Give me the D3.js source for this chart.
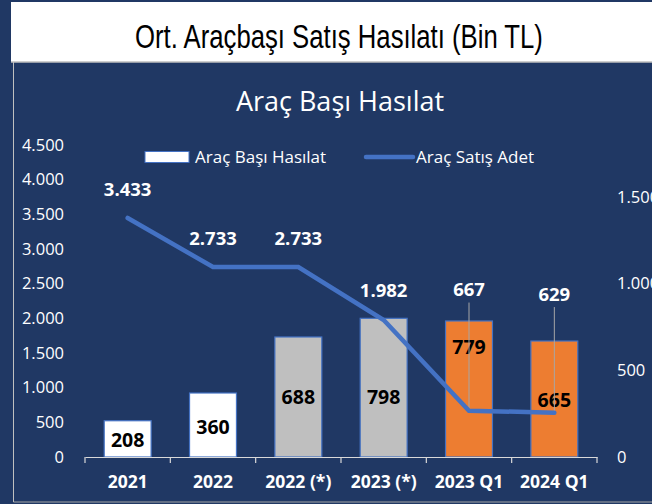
<!DOCTYPE html>
<html><head><meta charset="utf-8">
<script src="https://cdn.jsdelivr.net/npm/d3@7"></script>
<style>html,body{margin:0;padding:0;background:#203864;} svg{display:block}</style>
</head><body><svg id="c" width="652" height="504"></svg>
<script>
// ---- data ----
const categories = ["2021", "2022", "2022 (*)", "2023 (*)", "2023 Q1", "2024 Q1"];
const barValues = [523, 923, 1731, 2000, 1962, 1673];          // Araç Başı Hasılat (left axis)
const lineValues = [1379, 1096, 1096, 790, 267, 256];          // Araç Satış Adet (right axis)
const barLabels = ["208", "360", "688", "798", "779", "665"];
const lineLabels = ["3.433", "2.733", "2.733", "1.982", "667", "629"];
const barLabelAt = [245, 433, 865, 865, 1587, 822];            // label anchor, left-axis units
const lineLabelAt = [1546, 1263, 1263, 963, 966, 940];         // label anchor, right-axis units
const barGroups = ["actual", "actual", "adjusted", "adjusted", "quarter", "quarter"];
const leftTicks = [0, 500, 1000, 1500, 2000, 2500, 3000, 3500, 4000, 4500];
const rightTicks = [0, 500, 1000, 1500];
const seriesNames = ["Araç Başı Hasılat", "Araç Satış Adet"];
const titleText = "Ort. Araçbaşı Satış Hasılatı (Bin TL)";
const chartTitle = "Araç Başı Hasılat";

// ---- styles ----
const NAVY = "#203864";
const BLUE = "#4472C4";
const groupColor = d3.scaleOrdinal().domain(["actual", "adjusted", "quarter"]).range(["#FFFFFF", "#BFBFBF", "#ED7D31"]);
const FONT = "'Open Sans', Lato, sans-serif";
const fmt = d => d3.format(",")(d).replace(/,/g, ".");

const svg = d3.select("#c");
svg.append("rect").attr("width", 652).attr("height", 504).attr("fill", NAVY);

// title box
svg.append("rect").attr("x", 11).attr("y", 2).attr("width", 642).attr("height", 60)
  .attr("fill", "#FFFFFF");
svg.append("line").attr("x1", 11).attr("x2", 652).attr("y1", 62).attr("y2", 62)
  .attr("stroke", "#BFBFBF").attr("stroke-width", 1.5);
const tt = svg.append("text").attr("x", 0).attr("y", 0).attr("text-anchor", "middle")
  .attr("font-family", "'Liberation Sans Narrow', 'Liberation Sans', Arial, sans-serif")
  .attr("font-size", 33).attr("fill", "#000")
  .text(titleText);
const natW = tt.node().getComputedTextLength();
const sx = Math.min(1, 408 / natW);
tt.attr("transform", `translate(339,48) scale(${sx},1)`);

// chart area border
svg.append("line").attr("x1", 13.5).attr("x2", 13.5).attr("y1", 62).attr("y2", 502)
  .attr("stroke", "#BFBFBF").attr("stroke-width", 1);
svg.append("line").attr("x1", 13.5).attr("x2", 652).attr("y1", 502).attr("y2", 502)
  .attr("stroke", "#A6A6A6").attr("stroke-width", 1);

// chart title
svg.append("text").attr("x", 340).attr("y", 111).attr("text-anchor", "middle")
  .attr("font-family", FONT).attr("font-size", 27).attr("fill", "#fff")
  .text(chartTitle);

// scales
const x = d3.scaleBand().domain(categories).range([85, 597]).paddingInner(0.45).paddingOuter(0.225);
const yL = d3.scaleLinear().domain([0, 4500]).range([457, 145]);
const yR = d3.scaleLinear().domain([0, 1800]).range([457, 145]);
const cx = c => x(c) + x.bandwidth() / 2;

// left axis
const gL = svg.append("g").attr("transform", "translate(64,0)")
  .call(d3.axisLeft(yL).tickValues(leftTicks).tickFormat(fmt).tickSize(0).tickPadding(0));
gL.select(".domain").remove();
gL.selectAll("text").attr("font-family", FONT).attr("font-size", 16.5).attr("fill", "#fff");

// right axis
const gR = svg.append("g").attr("transform", "translate(617,0)")
  .call(d3.axisRight(yR).tickValues(rightTicks).tickFormat(fmt).tickSize(0).tickPadding(0));
gR.select(".domain").remove();
gR.selectAll("text").attr("font-family", FONT).attr("font-size", 16.5).attr("fill", "#fff");

// bars
svg.append("g").selectAll("rect").data(categories).join("rect")
  .attr("x", c => x(c)).attr("width", x.bandwidth())
  .attr("y", (c, i) => yL(barValues[i]))
  .attr("height", (c, i) => yL(0) - yL(barValues[i]))
  .attr("fill", (c, i) => groupColor(barGroups[i]))
  .attr("stroke", BLUE).attr("stroke-width", 1.2);

// x axis
const gX = svg.append("g").attr("transform", `translate(0,${yL(0)})`)
  .call(d3.axisBottom(x).tickSize(0).tickPadding(19));
gX.select(".domain").attr("stroke", "#D9D9D9").attr("stroke-width", 1.2);
gX.selectAll("text").attr("font-family", FONT).attr("font-size", 17.5)
  .attr("font-weight", "bold").attr("fill", "#fff");
const bounds = categories.map(c => x(c) - x.step() * x.paddingInner() / 2)
  .concat([x(categories[categories.length - 1]) + x.bandwidth() + x.step() * x.paddingInner() / 2]);
gX.selectAll("line.bt").data(bounds).join("line").attr("class", "bt")
  .attr("x1", d => d).attr("x2", d => d).attr("y1", 0).attr("y2", 6)
  .attr("stroke", "#D9D9D9").attr("stroke-width", 1.2);

// bar labels
svg.append("g").selectAll("text").data(categories).join("text")
  .attr("x", c => cx(c)).attr("y", (c, i) => yL(barLabelAt[i]))
  .attr("dy", "0.36em").attr("text-anchor", "middle")
  .attr("font-family", FONT).attr("font-weight", "bold").attr("font-size", 19.5)
  .attr("fill", "#000").text((c, i) => barLabels[i]);

// line
const line = d3.line().x(d => cx(d.c)).y(d => yR(d.v));
const pts = categories.map((c, i) => ({ c, v: lineValues[i] }));

// leader lines for displaced labels
svg.append("g").selectAll("line").data(pts.filter((d, i) => lineLabelAt[i] - d.v > 300 && i >= 4)).join("line")
  .attr("x1", d => cx(d.c)).attr("x2", d => cx(d.c))
  .attr("y1", d => yR(lineLabelAt[categories.indexOf(d.c)]) + 13)
  .attr("y2", d => yR(d.v))
  .attr("stroke", "#A6A6A6").attr("stroke-width", 1);

svg.append("path").datum(pts).attr("d", line)
  .attr("fill", "none").attr("stroke", BLUE).attr("stroke-width", 4.5)
  .attr("stroke-linecap", "round").attr("stroke-linejoin", "miter");

// line labels
svg.append("g").selectAll("text").data(categories).join("text")
  .attr("x", c => cx(c)).attr("y", (c, i) => yR(lineLabelAt[i]))
  .attr("dy", "0.36em").attr("text-anchor", "middle")
  .attr("font-family", FONT).attr("font-weight", "bold").attr("font-size", 18.5)
  .attr("fill", "#fff").text((c, i) => lineLabels[i]);

// legend
const lg = svg.append("g");
lg.append("rect").attr("x", 145).attr("y", 151.5).attr("width", 44).attr("height", 11)
  .attr("fill", "#fff").attr("stroke", BLUE).attr("stroke-width", 1);
lg.append("text").attr("x", 195).attr("y", 157).attr("dy", "0.36em")
  .attr("font-family", FONT).attr("font-size", 17).attr("fill", "#fff").text(seriesNames[0]);
lg.append("line").attr("x1", 366).attr("x2", 413).attr("y1", 157).attr("y2", 157)
  .attr("stroke", BLUE).attr("stroke-width", 4.5).attr("stroke-linecap", "round");
lg.append("text").attr("x", 416).attr("y", 157).attr("dy", "0.36em")
  .attr("font-family", FONT).attr("font-size", 17).attr("fill", "#fff").text(seriesNames[1]);
</script>
</body></html>
